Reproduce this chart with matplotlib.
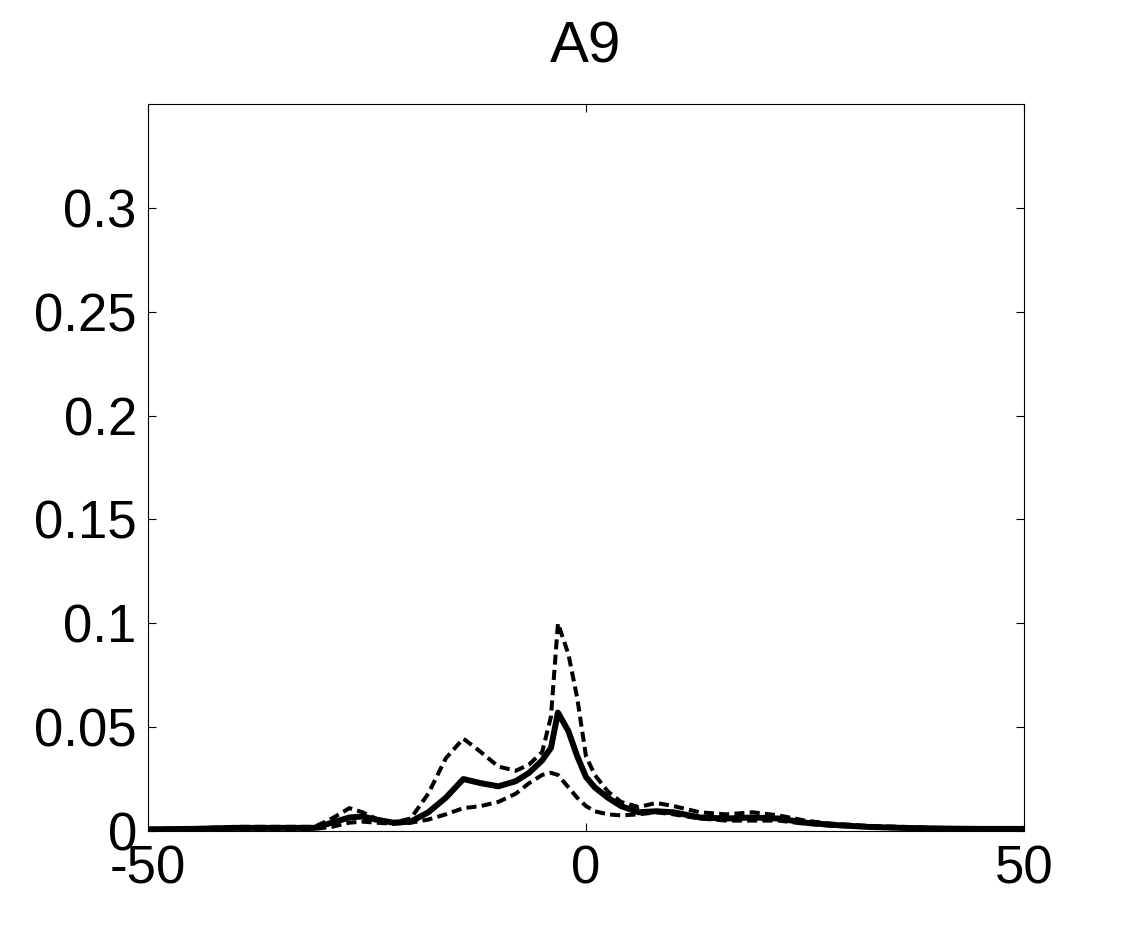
import matplotlib
matplotlib.use("Agg")
import matplotlib.pyplot as plt

plt.rcParams["font.family"] = ["Liberation Sans", "DejaVu Sans"]

# x positions (lag) and the three curves
x = [-50, -45, -40, -35, -31, -29, -27, -25.5, -24, -22, -20, -18, -16, -14, -12, -10, -8,
     -6.5, -5, -4, -3.2, -2, -1, 0, 1, 2.5, 4, 6, 8, 10, 13, 16, 19, 22, 25, 28, 32, 36,
     40, 45, 50]
y_mean = [0.0008, 0.001, 0.0015, 0.0015, 0.0015, 0.004, 0.0065, 0.007, 0.0055, 0.004, 0.0045,
          0.009, 0.016, 0.025, 0.023, 0.0215, 0.024, 0.028, 0.034, 0.04, 0.057, 0.048, 0.036,
          0.026, 0.021, 0.016, 0.012, 0.009, 0.0095, 0.009, 0.0065, 0.006, 0.0065, 0.006, 0.004,
          0.003, 0.002, 0.0015, 0.0012, 0.001, 0.001]
y_upper = [0.001, 0.0012, 0.002, 0.002, 0.002, 0.006, 0.011, 0.009, 0.006, 0.004, 0.006,
           0.018, 0.035, 0.0445, 0.038, 0.031, 0.029, 0.032, 0.038, 0.055, 0.1, 0.085, 0.064,
           0.036, 0.027, 0.019, 0.014, 0.0115, 0.0135, 0.012, 0.009, 0.008, 0.009, 0.0075, 0.005,
           0.0035, 0.0025, 0.002, 0.0015, 0.0012, 0.0012]
y_lower = [0.0005, 0.0008, 0.001, 0.001, 0.001, 0.002, 0.004, 0.0045, 0.004, 0.0035, 0.004,
           0.0055, 0.008, 0.011, 0.012, 0.014, 0.018, 0.023, 0.027, 0.028, 0.027, 0.021, 0.016,
           0.012, 0.0095, 0.008, 0.0075, 0.008, 0.009, 0.008, 0.006, 0.005, 0.005, 0.005, 0.0035,
           0.0025, 0.0018, 0.0012, 0.001, 0.0008, 0.0008]

yticks = [0, 0.05, 0.1, 0.15, 0.2, 0.25, 0.3]
ytick_labels = ["0", "0.05", "0.1", "0.15", "0.2", "0.25", "0.3"]
xticks = [-50, 0, 50]

fig = plt.figure(figsize=(11.32, 9.36), dpi=100)
ax = fig.add_axes([0.1307, 0.1122, 0.7739, 0.7767])

# dashed = bounds, solid = mean
ax.plot(x, y_upper, color="black", lw=2.9, dashes=(2.5, 1.3))
ax.plot(x, y_lower, color="black", lw=2.9, dashes=(2.5, 1.3))
ax.plot(x, y_mean, color="black", lw=4.3)

ax.set_xlim(-50, 50)
ax.set_ylim(0, 0.35)
ax.set_xticks(xticks)
ax.set_xticklabels([str(v) for v in xticks])
ax.set_yticks(yticks)
ax.set_yticklabels(ytick_labels)
ax.tick_params(direction="in", length=6, width=0.8, labelsize=38, top=True, right=True)
ax.tick_params(axis="y", pad=8)
ax.tick_params(axis="x", pad=10)
for s in ax.spines.values():
    s.set_linewidth(0.8)

ax.set_title("A9", fontsize=42, pad=30)

fig.savefig("out.png", dpi=100)
